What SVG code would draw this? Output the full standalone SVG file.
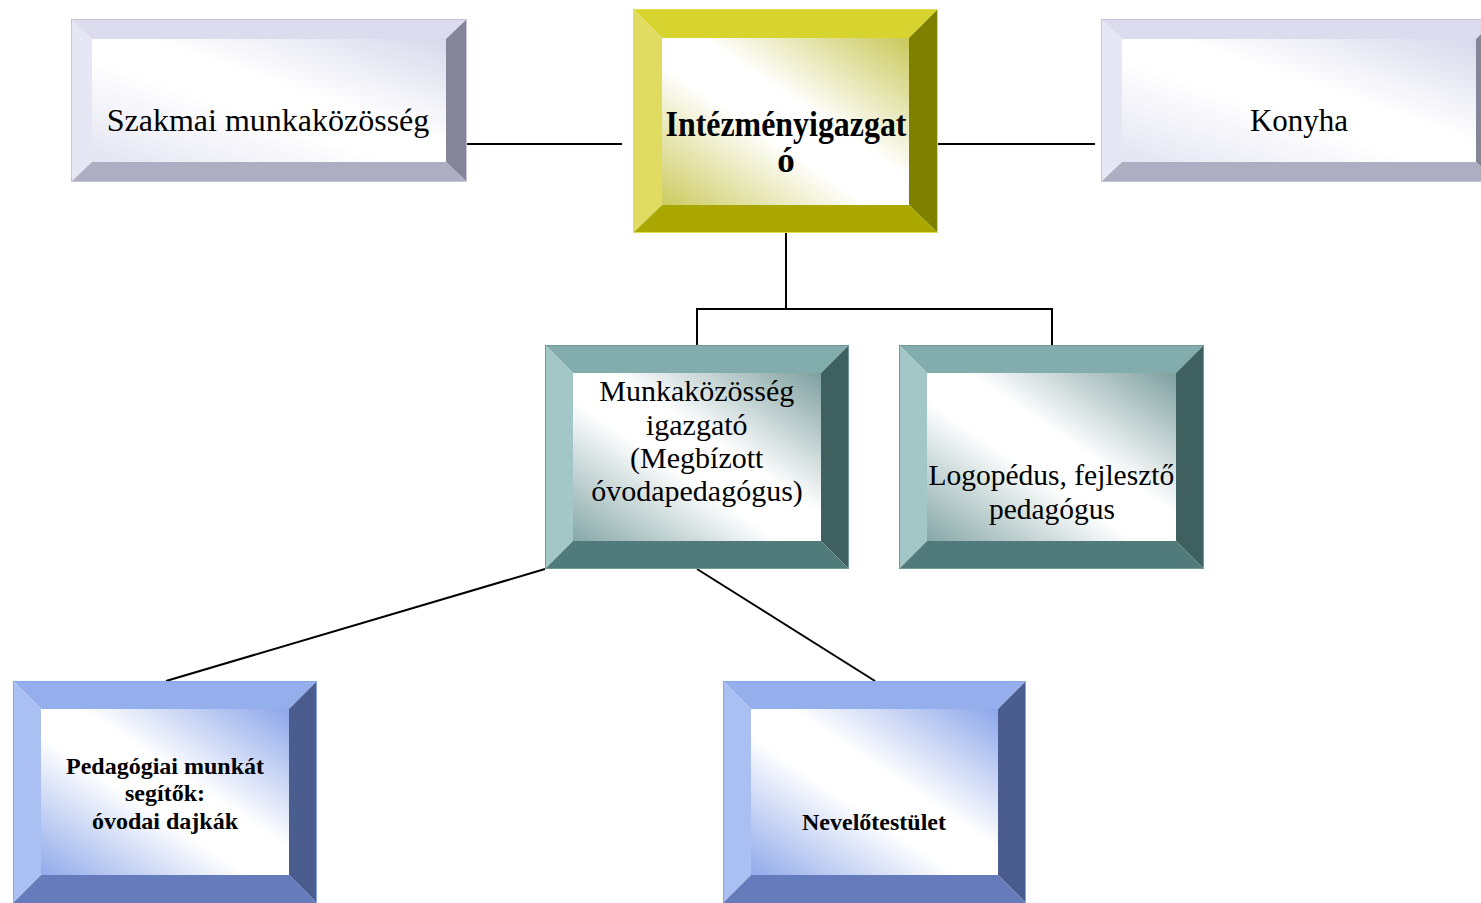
<svg xmlns="http://www.w3.org/2000/svg" width="1481" height="903" viewBox="0 0 1481 903">
<defs>
<linearGradient id="gLav" x1="1" y1="0" x2="0" y2="1">
<stop offset="0" stop-color="#d8d8ec"/><stop offset="0.42" stop-color="#ffffff"/><stop offset="0.58" stop-color="#ffffff"/><stop offset="1" stop-color="#e4e4f2"/>
</linearGradient>
<linearGradient id="gYel" x1="1" y1="0" x2="0" y2="1">
<stop offset="0" stop-color="#c9c95a"/><stop offset="0.42" stop-color="#ffffff"/><stop offset="0.58" stop-color="#ffffff"/><stop offset="1" stop-color="#cccb60"/>
</linearGradient>
<linearGradient id="gTeal" x1="1" y1="0" x2="0" y2="1">
<stop offset="0" stop-color="#7e9f9f"/><stop offset="0.42" stop-color="#ffffff"/><stop offset="0.58" stop-color="#ffffff"/><stop offset="1" stop-color="#87a7a7"/>
</linearGradient>
<linearGradient id="gBlue" x1="1" y1="0" x2="0" y2="1">
<stop offset="0" stop-color="#8ca6ea"/><stop offset="0.42" stop-color="#ffffff"/><stop offset="0.58" stop-color="#ffffff"/><stop offset="1" stop-color="#91aaea"/>
</linearGradient>
</defs>
<style>
.lav .t{fill:#dcdcee}.lav .l{fill:#e6e6f4}.lav .r{fill:#85859a}.lav .b{fill:#aeaec3}.lav .i{fill:url(#gLav)}.lav .o{stroke:#c4c4da}
.yel .t{fill:#d7d32f}.yel .l{fill:#e0dc62}.yel .r{fill:#7f7f00}.yel .b{fill:#a9a700}.yel .i{fill:url(#gYel)}.yel .o{stroke:#e2de50}
.teal .t{fill:#83adad}.teal .l{fill:#a3c6c6}.teal .r{fill:#3e605f}.teal .b{fill:#507b7a}.teal .i{fill:url(#gTeal)}.teal .o{stroke:#6f9999}
.blue .t{fill:#95aeec}.blue .l{fill:#abc0f2}.blue .r{fill:#4b5d8e}.blue .b{fill:#667bbb}.blue .i{fill:url(#gBlue)}.blue .o{stroke:#8aa4e8}
.o{fill:none;stroke-width:1}
.i{stroke:none}
.txt{font-family:"Liberation Serif","Times New Roman",serif;fill:#000;text-anchor:middle}
.bold{font-weight:bold}
.conn line{stroke:#000;stroke-width:2;fill:none}
</style>

<g id="connectors" class="conn">
<line x1="465" y1="144" x2="622" y2="144"/>
<line x1="938" y1="144" x2="1095" y2="144"/>
<line x1="786" y1="233" x2="786" y2="309"/>
<line x1="697" y1="309" x2="1052" y2="309"/>
<line x1="697" y1="308" x2="697" y2="345"/>
<line x1="1052" y1="308" x2="1052" y2="345"/>
<line x1="545" y1="569" x2="166" y2="681"/>
<line x1="697" y1="569" x2="875" y2="681"/>
</g>

<g id="node-szakmai" class="lav">
<polygon class="t" points="71,19 467,19 446,39 92,39"/>
<polygon class="l" points="71,19 92,39 92,162 71,182"/>
<polygon class="r" points="467,19 467,182 446,162 446,39"/>
<polygon class="b" points="71,182 92,162 446,162 467,182"/>
<rect class="i" x="92" y="39" width="354" height="123"/>
<rect class="o" x="71.5" y="19.5" width="395" height="162"/>
<text class="txt" x="268" y="131" font-size="32">Szakmai munkaközösség</text>
</g>

<g id="node-igazgato" class="yel">
<polygon class="t" points="633,9 938,9 909,38 662,38"/>
<polygon class="l" points="633,9 662,38 662,205 633,233"/>
<polygon class="r" points="938,9 938,233 909,205 909,38"/>
<polygon class="b" points="633,233 662,205 909,205 938,233"/>
<rect class="i" x="662" y="38" width="247" height="167"/>
<rect class="o" x="633.5" y="9.5" width="304" height="223"/>
<text class="txt bold" x="786" y="136" font-size="35" textLength="241" lengthAdjust="spacingAndGlyphs">Intézményigazgat</text>
<text class="txt bold" x="786" y="172" font-size="35">ó</text>
</g>

<g id="node-konyha" class="lav">
<polygon class="t" points="1101,19 1497,19 1476,39 1122,39"/>
<polygon class="l" points="1101,19 1122,39 1122,162 1101,182"/>
<polygon class="r" points="1497,19 1497,182 1476,162 1476,39"/>
<polygon class="b" points="1101,182 1122,162 1476,162 1497,182"/>
<rect class="i" x="1122" y="39" width="354" height="123"/>
<rect class="o" x="1101.5" y="19.5" width="395" height="162"/>
<text class="txt" x="1299" y="131" font-size="31">Konyha</text>
</g>

<g id="node-munkakozosseg" class="teal">
<polygon class="t" points="545,345 849,345 821,373 573,373"/>
<polygon class="l" points="545,345 573,373 573,541 545,569"/>
<polygon class="r" points="849,345 849,569 821,541 821,373"/>
<polygon class="b" points="545,569 573,541 821,541 849,569"/>
<rect class="i" x="573" y="373" width="248" height="168"/>
<rect class="o" x="545.5" y="345.5" width="303" height="223"/>
<text class="txt" font-size="30">
<tspan x="700.5" y="401">Munkaközösség</tspan>
<tspan x="700.5" y="435">igazgató</tspan>
<tspan x="700.5" y="468">(Megbízott</tspan>
<tspan x="697" y="501">óvodapedagógus)</tspan>
</text>
</g>

<g id="node-logopedus" class="teal">
<polygon class="t" points="899,345 1204,345 1176,373 927,373"/>
<polygon class="l" points="899,345 927,373 927,541 899,569"/>
<polygon class="r" points="1204,345 1204,569 1176,541 1176,373"/>
<polygon class="b" points="899,569 927,541 1176,541 1204,569"/>
<rect class="i" x="927" y="373" width="249" height="168"/>
<rect class="o" x="899.5" y="345.5" width="304" height="223"/>
<text class="txt" font-size="29.5">
<tspan x="1055" y="485">Logopédus, fejlesztő</tspan>
<tspan x="1052" y="519">pedagógus</tspan>
</text>
</g>

<g id="node-dajkak" class="blue">
<polygon class="t" points="13,681 317,681 289,709 41,709"/>
<polygon class="l" points="13,681 41,709 41,875 13,903"/>
<polygon class="r" points="317,681 317,903 289,875 289,709"/>
<polygon class="b" points="13,903 41,875 289,875 317,903"/>
<rect class="i" x="41" y="709" width="248" height="166"/>
<rect class="o" x="13.5" y="681.5" width="303" height="222"/>
<text class="txt bold" font-size="24">
<tspan x="168" y="774">Pedagógiai munkát</tspan>
<tspan x="168" y="801">segítők:</tspan>
<tspan x="165" y="829">óvodai dajkák</tspan>
</text>
</g>

<g id="node-nevelotestulet" class="blue">
<polygon class="t" points="723,681 1026,681 998,709 751,709"/>
<polygon class="l" points="723,681 751,709 751,875 723,903"/>
<polygon class="r" points="1026,681 1026,903 998,875 998,709"/>
<polygon class="b" points="723,903 751,875 998,875 1026,903"/>
<rect class="i" x="751" y="709" width="247" height="166"/>
<rect class="o" x="723.5" y="681.5" width="302" height="222"/>
<text class="txt bold" x="874" y="830" font-size="24">Nevelőtestület</text>
</g>
</svg>
